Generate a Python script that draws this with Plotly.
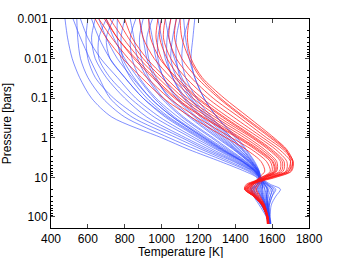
import plotly.graph_objects as go

# Pressure levels [bars]
pressure = [0.001, 0.003, 0.01, 0.03, 0.1, 0.3, 1, 2, 4, 7, 10, 15, 20, 30, 50, 100, 150]

# Blue temperature profiles [K] at the pressure levels above
blue_profiles = [
    [476, 490, 515, 555, 620, 730, 1000, 1150, 1320, 1450, 1515, 1530, 1520, 1540, 1560, 1580, 1585],
    [540, 545, 560, 600, 680, 800, 1040, 1190, 1350, 1470, 1520, 1545, 1560, 1570, 1575, 1585, 1592],
    [520, 560, 610, 660, 720, 840, 1080, 1220, 1370, 1480, 1525, 1520, 1500, 1510, 1540, 1575, 1580],
    [600, 590, 600, 640, 740, 880, 1110, 1240, 1390, 1490, 1530, 1570, 1600, 1590, 1580, 1585, 1590],
    [640, 620, 640, 700, 800, 920, 1130, 1260, 1400, 1495, 1530, 1550, 1545, 1550, 1565, 1580, 1585],
    [700, 660, 660, 720, 830, 960, 1160, 1280, 1410, 1500, 1535, 1590, 1645, 1620, 1595, 1590, 1594],
    [560, 600, 670, 760, 860, 990, 1180, 1300, 1420, 1505, 1535, 1520, 1490, 1500, 1530, 1568, 1577],
    [740, 700, 720, 800, 900, 1020, 1200, 1310, 1430, 1505, 1530, 1560, 1570, 1565, 1570, 1582, 1588],
    [800, 780, 790, 850, 940, 1060, 1230, 1330, 1440, 1510, 1535, 1540, 1530, 1540, 1560, 1580, 1585],
    [860, 830, 840, 880, 970, 1090, 1250, 1350, 1450, 1515, 1535, 1575, 1610, 1600, 1585, 1586, 1590],
    [900, 880, 890, 930, 1010, 1120, 1280, 1370, 1460, 1515, 1530, 1510, 1490, 1510, 1545, 1575, 1581],
    [950, 920, 930, 970, 1040, 1150, 1300, 1390, 1470, 1520, 1535, 1555, 1560, 1560, 1570, 1582, 1586],
    [1000, 980, 980, 1010, 1080, 1180, 1320, 1400, 1475, 1520, 1530, 1530, 1515, 1525, 1550, 1578, 1583],
    [1050, 1030, 1030, 1060, 1120, 1210, 1340, 1410, 1480, 1520, 1530, 1565, 1590, 1580, 1575, 1584, 1589],
    [1100, 1080, 1080, 1100, 1160, 1240, 1360, 1425, 1485, 1525, 1535, 1540, 1535, 1545, 1560, 1580, 1585],
    [1150, 1120, 1110, 1130, 1190, 1270, 1380, 1440, 1490, 1525, 1530, 1500, 1480, 1500, 1540, 1572, 1579],
    [1180, 1170, 1160, 1180, 1230, 1300, 1400, 1455, 1500, 1530, 1540, 1580, 1620, 1600, 1585, 1586, 1591],
    [880, 900, 920, 960, 1050, 1160, 1310, 1395, 1470, 1515, 1530, 1545, 1550, 1555, 1565, 1580, 1585],
    [700, 740, 800, 870, 960, 1070, 1240, 1340, 1445, 1510, 1535, 1525, 1505, 1520, 1550, 1578, 1583],
    [620, 660, 720, 800, 900, 1030, 1210, 1320, 1435, 1505, 1530, 1555, 1575, 1570, 1572, 1583, 1588],
    [980, 1000, 1020, 1060, 1130, 1220, 1350, 1420, 1485, 1525, 1535, 1550, 1545, 1550, 1565, 1580, 1585],
    [1080, 1060, 1050, 1080, 1150, 1250, 1370, 1435, 1490, 1525, 1530, 1520, 1500, 1515, 1545, 1576, 1582],
    [760, 760, 780, 830, 920, 1040, 1220, 1325, 1440, 1510, 1535, 1570, 1600, 1590, 1580, 1585, 1590],
    [930, 950, 970, 1010, 1090, 1190, 1330, 1405, 1478, 1520, 1530, 1535, 1525, 1535, 1555, 1579, 1584],
    [1120, 1130, 1150, 1180, 1230, 1300, 1410, 1460, 1505, 1530, 1535, 1560, 1575, 1570, 1575, 1584, 1588],
    [830, 850, 870, 920, 1000, 1110, 1270, 1360, 1455, 1512, 1532, 1545, 1540, 1545, 1562, 1580, 1585],
    [1020, 1040, 1070, 1110, 1170, 1260, 1380, 1445, 1495, 1528, 1538, 1510, 1485, 1505, 1542, 1574, 1580],
    [660, 700, 760, 840, 940, 1060, 1230, 1335, 1440, 1508, 1533, 1560, 1580, 1575, 1575, 1584, 1589],
]

# Red temperature profiles [K] at the pressure levels above
red_profiles = [
    [640, 700, 790, 890, 1010, 1160, 1350, 1460, 1540, 1560, 1530, 1500, 1490, 1520, 1555, 1575, 1580],
    [660, 730, 820, 920, 1040, 1190, 1380, 1490, 1570, 1590, 1545, 1470, 1455, 1500, 1545, 1570, 1574],
    [690, 760, 850, 950, 1070, 1220, 1410, 1510, 1590, 1600, 1560, 1520, 1510, 1530, 1558, 1578, 1583],
    [720, 790, 880, 980, 1100, 1250, 1430, 1530, 1605, 1615, 1550, 1480, 1460, 1500, 1545, 1572, 1576],
    [760, 820, 900, 1000, 1120, 1270, 1450, 1545, 1615, 1620, 1570, 1530, 1515, 1535, 1560, 1578, 1582],
    [980, 970, 1000, 1070, 1190, 1330, 1500, 1590, 1655, 1650, 1560, 1490, 1470, 1510, 1550, 1574, 1578],
    [1000, 990, 1030, 1100, 1220, 1360, 1530, 1620, 1680, 1675, 1590, 1475, 1455, 1500, 1546, 1572, 1575],
    [1020, 1010, 1050, 1130, 1250, 1390, 1550, 1640, 1700, 1690, 1600, 1495, 1475, 1512, 1552, 1576, 1580],
    [1050, 1040, 1080, 1160, 1280, 1420, 1570, 1660, 1710, 1700, 1610, 1470, 1450, 1500, 1546, 1571, 1574],
    [1080, 1070, 1110, 1190, 1310, 1440, 1590, 1670, 1715, 1705, 1620, 1490, 1465, 1508, 1550, 1575, 1579],
    [1150, 1140, 1160, 1220, 1340, 1470, 1610, 1680, 1712, 1690, 1595, 1460, 1450, 1498, 1545, 1572, 1576],
    [1100, 1110, 1150, 1210, 1320, 1450, 1600, 1675, 1700, 1680, 1585, 1485, 1468, 1505, 1548, 1574, 1578],
    [800, 840, 920, 1020, 1140, 1290, 1470, 1560, 1625, 1625, 1555, 1510, 1500, 1525, 1555, 1577, 1581],
    [880, 900, 960, 1050, 1170, 1310, 1490, 1580, 1645, 1640, 1565, 1500, 1480, 1515, 1552, 1575, 1579],
    [700, 760, 860, 960, 1080, 1230, 1420, 1520, 1600, 1610, 1540, 1490, 1485, 1515, 1552, 1576, 1581],
    [930, 940, 990, 1080, 1200, 1340, 1510, 1600, 1665, 1660, 1575, 1480, 1462, 1505, 1548, 1573, 1577],
]

x_ticks = [400, 600, 800, 1000, 1200, 1400, 1600, 1800]
y_ticks = [0.001, 0.01, 0.1, 1, 10, 100]
y_tick_labels = ["0.001", "0.01", "0.1", "1", "10", "100"]

fig = go.Figure()
for prof in blue_profiles:
    fig.add_trace(go.Scatter(x=prof, y=pressure, mode="lines",
                             line=dict(color="rgba(45,70,255,0.6)", width=1, shape="spline", smoothing=0.8),
                             showlegend=False, hoverinfo="skip"))
for prof in red_profiles:
    fig.add_trace(go.Scatter(x=prof, y=pressure, mode="lines",
                             line=dict(color="rgba(255,20,20,0.72)", width=1, shape="spline", smoothing=0.8),
                             showlegend=False, hoverinfo="skip"))

minor_vals = []
for d in [0.001, 0.01, 0.1, 1, 10, 100]:
    for k in range(2, 10):
        minor_vals.append(d * k)

fig.update_layout(
    width=342, height=258,
    margin=dict(l=51, r=33, t=19, b=30),
    paper_bgcolor="white", plot_bgcolor="white",
    font=dict(family="Liberation Sans, Arial, sans-serif", size=12, color="black"),
    annotations=[dict(text="Temperature [K]", xref="paper", yref="paper",
                      x=0.5, y=-0.115, xanchor="center", yanchor="middle",
                      showarrow=False, font=dict(size=12))],
)
fig.update_xaxes(
    range=[400, 1800], tickvals=x_ticks, ticks="inside", ticklen=4,
    showline=True, linecolor="black", linewidth=1, mirror="ticks",
    showgrid=False, zeroline=False,
    tickfont=dict(size=12), automargin=False,
)
fig.update_yaxes(
    type="log", range=[2.28, -3], tickvals=y_ticks, ticktext=y_tick_labels,
    ticks="inside", ticklen=4,
    showline=True, linecolor="black", linewidth=1, mirror="ticks",
    showgrid=False, zeroline=False,
    minor=dict(tickvals=minor_vals, ticks="inside", ticklen=2, tickcolor="black", showgrid=False),
    title=dict(text="Pressure [bars]", standoff=6, font=dict(size=12)),
    tickfont=dict(size=12), automargin=False,
)

fig.write_html("out.html", config={"displayModeBar": False},
               post_script="document.body.style.margin='0';")
